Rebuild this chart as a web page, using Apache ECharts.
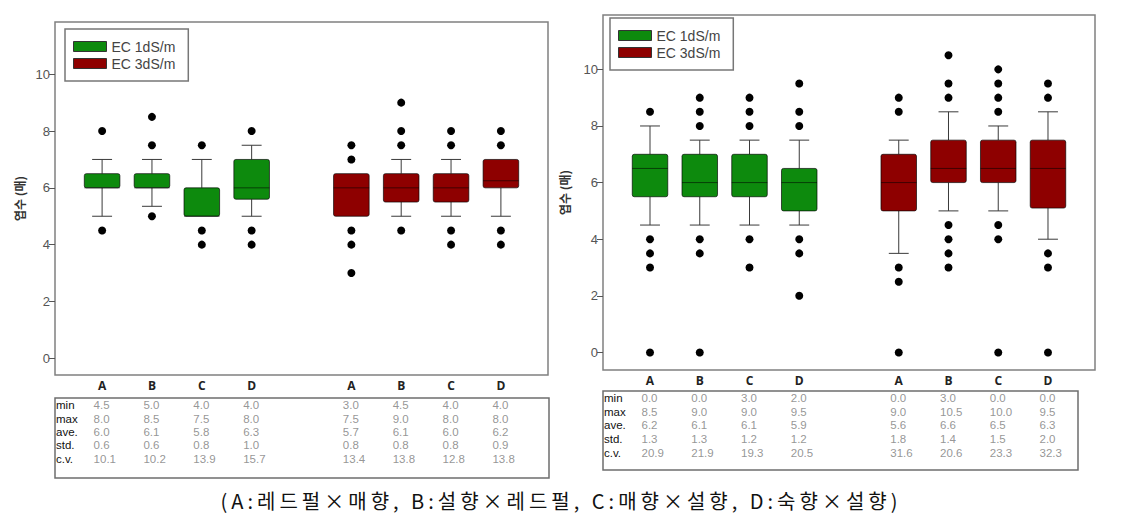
<!DOCTYPE html>
<html><head><meta charset="utf-8">
<script src="https://cdn.jsdelivr.net/npm/echarts@6/dist/echarts.min.js"></script>
<style>
html,body{margin:0;padding:0;background:#fff;}
#chart{width:1122px;height:517px;position:absolute;left:0;top:0;}
#caption{position:absolute;left:0;top:488px;width:1122px;text-align:center;font-family:"Noto Sans CJK KR";font-size:20px;letter-spacing:4px;color:#111;line-height:26px;white-space:nowrap;}
</style></head><body>
<div id="chart"></div>
<div id="caption">(A:레드펄×매향, B:설향×레드펄, C:매향×설향, D:숙향×설향)</div>
<script>
// ---------------- data ----------------
const categories = ['A', 'B', 'C', 'D'];
const seriesNames = ['EC 1dS/m', 'EC 3dS/m'];
const yTicks = [0, 2, 4, 6, 8, 10];
const rowNames = ['min', 'max', 'ave.', 'std.', 'c.v.'];
const yAxisTitle = '엽수 (매)';

// box stats: [lower whisker, Q1, median, Q3, upper whisker]
const leftGreenBox = [[5, 6, 6, 6.5, 7], [5.35, 6, 6, 6.5, 7], [5, 5, 5, 6, 7], [5, 5.6, 6, 7, 7.5]];
const leftRedBox = [[5, 5, 6, 6.5, 6.5], [5, 5.5, 6, 6.5, 7], [5, 5.5, 6, 6.5, 7], [5, 6, 6.25, 7, 7]];
const leftGreenOut = [[8, 4.5], [8.5, 7.5, 5], [7.5, 4.5, 4], [8, 4.5, 4]];
const leftRedOut = [[7.5, 7, 4.5, 4, 3], [9, 8, 7.5, 4.5], [8, 7.5, 4.5, 4], [8, 7.5, 4.5, 4]];

const rightGreenBox = [[4.5, 5.5, 6.5, 7, 8], [4.5, 5.5, 6, 7, 7.5], [4.5, 5.5, 6, 7, 7.5], [4.5, 5, 6, 6.5, 7.5]];
const rightRedBox = [[3.5, 5, 6, 7, 7.5], [5, 6, 6.5, 7.5, 8.5], [5, 6, 6.5, 7.5, 8], [4, 5.1, 6.5, 7.5, 8.5]];
const rightGreenOut = [[8.5, 4, 3.5, 3, 0], [9, 8.5, 8, 4, 3.5, 0], [9, 8.5, 8, 4, 3], [9.5, 8.5, 8, 4, 3.5, 2]];
const rightRedOut = [[9, 8.5, 3, 2.5, 0], [10.5, 9.5, 9, 4.5, 4, 3.5, 3], [10, 9.5, 9, 8.5, 4.5, 4, 0], [9.5, 9, 3.5, 3, 0]];

// table stats: columns green A-D, then red A-D
const leftMin = [4.5, 5.0, 4.0, 4.0, 3.0, 4.5, 4.0, 4.0];
const leftMax = [8.0, 8.5, 7.5, 8.0, 7.5, 9.0, 8.0, 8.0];
const leftAve = [6.0, 6.1, 5.8, 6.3, 5.7, 6.1, 6.0, 6.2];
const leftStd = [0.6, 0.6, 0.8, 1.0, 0.8, 0.8, 0.8, 0.9];
const leftCv = [10.1, 10.2, 13.9, 15.7, 13.4, 13.8, 12.8, 13.8];
const rightMin = [0.0, 0.0, 3.0, 2.0, 0.0, 3.0, 0.0, 0.0];
const rightMax = [8.5, 9.0, 9.0, 9.5, 9.0, 10.5, 10.0, 9.5];
const rightAve = [6.2, 6.1, 6.1, 5.9, 5.6, 6.6, 6.5, 6.3];
const rightStd = [1.3, 1.3, 1.2, 1.2, 1.8, 1.4, 1.5, 2.0];
const rightCv = [20.9, 21.9, 19.3, 20.5, 31.6, 20.6, 23.3, 32.3];

// ---------------- layout / style ----------------
const COLORS = ['#0d8a0d', '#8e0000'];
const X_MIN = -0.945, X_MAX = 8.945;
const GROUP_STRIDE = 5; // one empty slot between groups
const colPositions = [];
[0, 1].forEach(g => categories.forEach((c, i) => colPositions.push(g * GROUP_STRIDE + i)));
const TABLE_FONT = {fontFamily: 'Liberation Sans', fontSize: 11.5, lineHeight: 12};

const panels = [
  {
    grid: {left: 55, top: 22, width: 493, height: 353}, yMin: -0.59, yMax: 11.84, nameGap: 30,
    legend: {left: 65, top: 29},
    table: {left: 55, top: 398, width: 494, height: 80, yMin: -0.52, yMax: 5.41},
    boxes: [leftGreenBox, leftRedBox], outs: [leftGreenOut, leftRedOut],
    rows: [leftMin, leftMax, leftAve, leftStd, leftCv]
  },
  {
    grid: {left: 603, top: 15, width: 492, height: 355}, yMin: -0.62, yMax: 11.92, nameGap: 33,
    legend: {left: 610, top: 18},
    table: {left: 603, top: 391, width: 475, height: 79, yMin: -0.51, yMax: 5.24},
    boxes: [rightGreenBox, rightRedBox], outs: [rightGreenOut, rightRedOut],
    rows: [rightMin, rightMax, rightAve, rightStd, rightCv]
  }
];

function renderBox(params, api) {
  const x = api.value(0);
  const pLow = api.coord([x, api.value(1)]);
  const pQ1 = api.coord([x, api.value(2)]);
  const pMed = api.coord([x, api.value(3)]);
  const pQ3 = api.coord([x, api.value(4)]);
  const pHigh = api.coord([x, api.value(5)]);
  const unit = api.size([1, 0])[0];
  const half = unit * 0.357, cap = unit * 0.2;
  const cx = pQ1[0];
  const fill = api.visual('color');
  const ws = {stroke: '#3a3a3a', lineWidth: 1};
  const children = [];
  if (pHigh[1] < pQ3[1] - 0.5) {
    children.push({type: 'line', shape: {x1: cx, y1: pQ3[1], x2: cx, y2: pHigh[1]}, style: ws});
    children.push({type: 'line', shape: {x1: cx - cap, y1: pHigh[1], x2: cx + cap, y2: pHigh[1]}, style: ws});
  }
  if (pLow[1] > pQ1[1] + 0.5) {
    children.push({type: 'line', shape: {x1: cx, y1: pQ1[1], x2: cx, y2: pLow[1]}, style: ws});
    children.push({type: 'line', shape: {x1: cx - cap, y1: pLow[1], x2: cx + cap, y2: pLow[1]}, style: ws});
  }
  children.push({type: 'rect', shape: {x: cx - half, y: pQ3[1], width: half * 2, height: pQ1[1] - pQ3[1], r: 2},
    style: {fill: fill, stroke: 'rgba(0,0,0,0.65)', lineWidth: 1}});
  children.push({type: 'line', shape: {x1: cx - half, y1: pMed[1], x2: cx + half, y2: pMed[1]},
    style: {stroke: 'rgba(0,0,0,0.55)', lineWidth: 1}});
  return {type: 'group', children: children};
}

const grids = [], xAxes = [], yAxes = [], series = [], legends = [];
panels.forEach((p, pi) => {
  const gi = grids.length;
  grids.push(Object.assign({show: true, borderColor: '#808080', borderWidth: 1.5, backgroundColor: '#fff'}, p.grid));
  xAxes.push({
    gridIndex: gi, type: 'value', min: X_MIN, max: X_MAX, position: 'bottom',
    axisLine: {show: false, onZero: false}, axisTick: {show: false}, splitLine: {show: false},
    axisLabel: {customValues: colPositions, formatter: v => categories[Math.round(v) % GROUP_STRIDE],
      fontFamily: 'Open Sans', fontWeight: 'bold', fontSize: 12, color: '#222', margin: 4}
  });
  yAxes.push({
    gridIndex: gi, type: 'value', min: p.yMin, max: p.yMax, position: 'left',
    axisLine: {show: false, onZero: false}, splitLine: {show: false},
    axisTick: {show: true, customValues: yTicks, length: 6, lineStyle: {color: '#555'}},
    axisLabel: {customValues: yTicks, fontFamily: 'Liberation Sans', fontSize: 13, color: '#555', margin: 5},
    name: yAxisTitle, nameLocation: 'middle', nameRotate: 90, nameGap: p.nameGap,
    nameTextStyle: {fontFamily: 'Noto Sans CJK KR', fontWeight: 'bold', fontSize: 12, color: '#333'}
  });
  // table grid
  const ti = grids.length;
  grids.push({show: true, borderColor: '#6e6e6e', borderWidth: 1.5, left: p.table.left, top: p.table.top,
    width: p.table.width, height: p.table.height});
  const pxPerUnit = p.grid.width / (X_MAX - X_MIN);
  xAxes.push({gridIndex: ti, type: 'value', min: X_MIN, max: X_MIN + p.table.width / pxPerUnit, show: false,
    axisLine: {onZero: false}});
  yAxes.push({
    gridIndex: ti, type: 'value', inverse: true, min: p.table.yMin, max: p.table.yMax, position: 'left',
    axisLine: {show: false, onZero: false}, axisTick: {show: false}, splitLine: {show: false},
    axisLabel: Object.assign({customValues: [0, 1, 2, 3, 4], formatter: v => rowNames[Math.round(v)], inside: true,
      color: '#111', margin: 1}, TABLE_FONT)
  });

  [0, 1].forEach(g => {
    series.push({
      type: 'custom', name: seriesNames[g], xAxisIndex: gi, yAxisIndex: gi,
      renderItem: renderBox, itemStyle: {color: COLORS[g]},
      encode: {x: 0, y: [1, 2, 3, 4, 5]},
      data: p.boxes[g].map((b, i) => [g * GROUP_STRIDE + i].concat(b)), z: 2
    });
    const outData = [];
    p.outs[g].forEach((arr, i) => arr.forEach(v => outData.push([g * GROUP_STRIDE + i, v])));
    series.push({
      type: 'scatter', name: 'outliers', xAxisIndex: gi, yAxisIndex: gi, data: outData,
      symbolSize: 8, itemStyle: {color: '#000', opacity: 1}, z: 3, silent: true
    });
  });

  const tableData = [];
  p.rows.forEach((row, r) => row.forEach((v, c) => tableData.push([colPositions[c], r, v])));
  series.push({
    type: 'scatter', name: 'table', xAxisIndex: ti, yAxisIndex: ti, data: tableData,
    symbolSize: 1, itemStyle: {color: 'rgba(0,0,0,0)'}, silent: true,
    label: Object.assign({show: true, position: [-8, 0.5], align: 'left', verticalAlign: 'middle',
      formatter: prm => prm.value[2].toFixed(1), color: '#7a7a7a'}, TABLE_FONT)
  });

  legends.push({
    orient: 'vertical', left: p.legend.left, top: p.legend.top, padding: [10, 13, 10, 8],
    itemWidth: 33, itemHeight: 10, itemGap: 2, selectedMode: false,
    borderColor: '#777', borderWidth: 1.5, backgroundColor: '#fff',
    textStyle: {fontFamily: 'Liberation Sans', fontSize: 14, color: '#444', lineHeight: 15},
    data: seriesNames.map((n, g) => ({name: n, icon: 'rect',
      itemStyle: {color: COLORS[g], borderColor: '#333', borderWidth: 1}}))
  });
});

const chart = echarts.init(document.getElementById('chart'), null, {renderer: 'svg'});
chart.setOption({
  animation: false,
  backgroundColor: '#fff',
  grid: grids, xAxis: xAxes, yAxis: yAxes, legend: legends, series: series
});
</script>
</body></html>
